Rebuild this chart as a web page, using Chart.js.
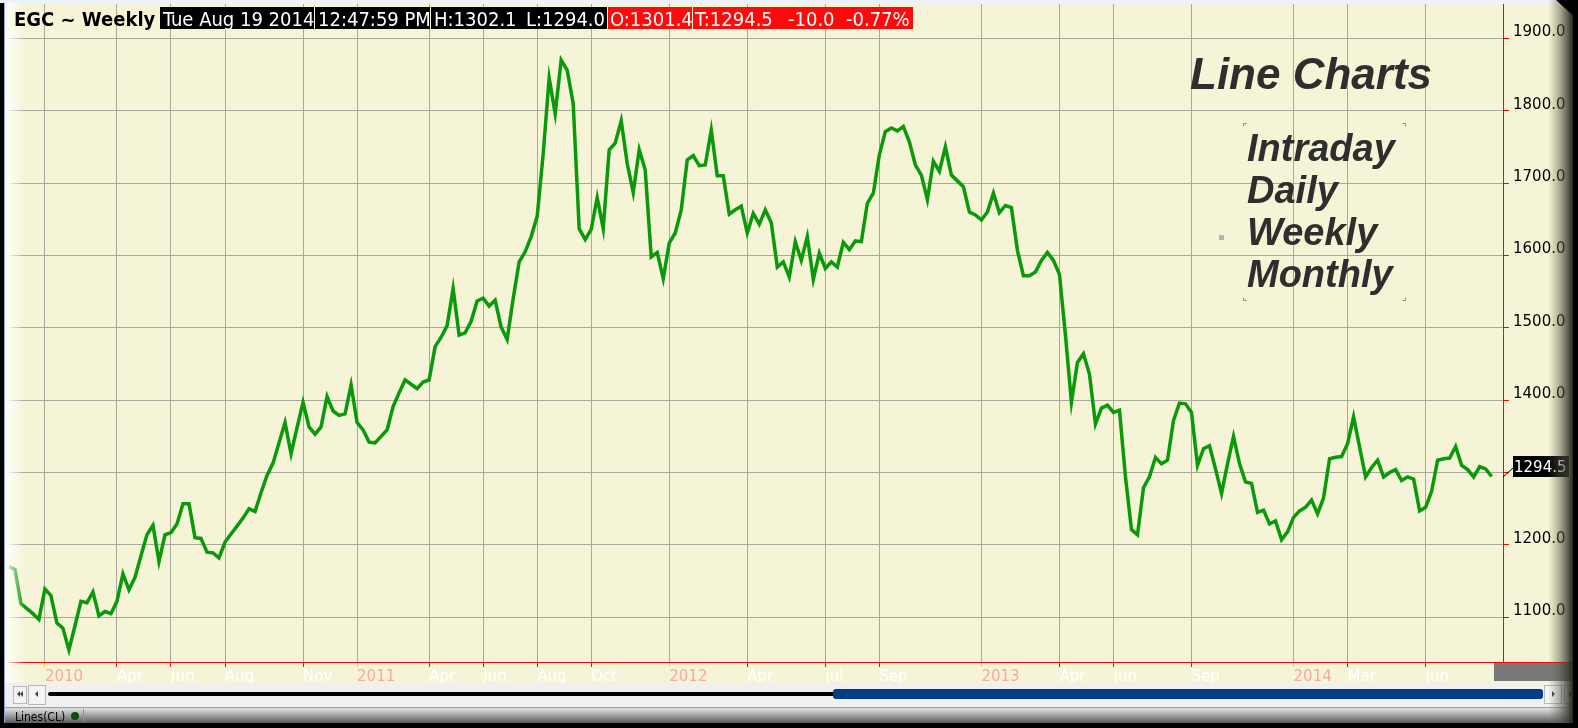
<!DOCTYPE html>
<html lang="en">
<head>
<meta charset="UTF-8">
<title>EGC ~ Weekly</title>
<script src="https://cdn.jsdelivr.net/npm/chart.js"></script>
<style>
    html, body { margin: 0; padding: 0; background: #f6f4d6; overflow: hidden; }
    canvas { display: block; }
</style>
</head>
<body>

<canvas id="goldChart" width="1578" height="728"></canvas>

<script>
// weekly closes, one per week, starting late Nov 2009
var closes = [
    1170, 1166, 1119, 1112, 1105, 1097, 1139, 1130, 1092, 1085,
    1055, 1088, 1122, 1120, 1135, 1102, 1108, 1105, 1122, 1160,
    1138, 1155, 1185, 1214, 1227, 1177, 1214, 1217, 1229, 1257,
    1257, 1210, 1209, 1190, 1189, 1182, 1204, 1215, 1226, 1237,
    1250, 1246, 1272, 1296, 1313, 1341, 1369, 1326, 1362, 1397,
    1363, 1353, 1363, 1405, 1385, 1379, 1381, 1421, 1369, 1359,
    1342, 1341, 1350, 1359, 1391, 1410, 1428, 1422, 1416, 1425,
    1428, 1474, 1487, 1503, 1554, 1490, 1493, 1509, 1537, 1541,
    1530, 1538, 1501, 1484, 1540, 1591, 1605, 1626, 1654, 1740,
    1845, 1796, 1870, 1856, 1810, 1637, 1622, 1636, 1680, 1637,
    1746, 1755, 1786, 1727, 1687, 1746, 1718, 1598, 1604, 1568,
    1617, 1631, 1663, 1732, 1738, 1724, 1725, 1773, 1710, 1710,
    1657, 1663, 1668, 1631, 1658, 1643, 1663, 1645, 1584, 1591,
    1570, 1619, 1593, 1626, 1567, 1603, 1582, 1591, 1584, 1618,
    1608, 1620, 1619, 1672, 1686, 1739, 1771, 1776, 1772, 1778,
    1757, 1725, 1711, 1677, 1730, 1716, 1750, 1711, 1703, 1695,
    1660, 1656, 1649, 1660, 1686, 1659, 1669, 1666, 1607, 1572,
    1572, 1577, 1593, 1604, 1593, 1574, 1490, 1397, 1452, 1464,
    1436, 1367, 1389, 1393, 1383, 1386, 1294, 1221, 1214, 1279,
    1294, 1321, 1312, 1317, 1372, 1396, 1395, 1383, 1310, 1333,
    1337, 1305, 1271, 1312, 1350, 1312, 1287, 1285, 1245, 1248,
    1229, 1233, 1207, 1218, 1238, 1247, 1252, 1262, 1243, 1265,
    1319, 1321, 1322, 1340, 1377, 1335, 1294, 1307, 1317, 1294,
    1300, 1304, 1289, 1294, 1291, 1247, 1252, 1274, 1317, 1319,
    1320, 1336, 1310, 1304, 1294, 1308, 1305, 1294.5
];

// x axis: week index of each month label
var tickWeeks = [6, 18, 27, 36, 49, 58, 70, 79, 88, 97, 110, 123, 136, 145, 162, 175, 184, 197, 214, 223, 236];
var tickLabels = ['2010', 'Apr', 'Jun', 'Aug', 'Nov', '2011', 'Apr', 'Jun', 'Aug', 'Oct', '2012', 'Apr', 'Jul', 'Sep', '2013', 'Apr', 'Jun', 'Sep', '2014', 'Mar', 'Jun'];
var priceTicks = [1100, 1200, 1300, 1400, 1500, 1600, 1700, 1800, 1900];

var headerTitle = 'EGC ~ Weekly';
var headerBoxes = [
    { text: ['Tue Aug 19 2014'], at: [163], x0: 160, x1: 314, fill: '#000000' },
    { text: ['12:47:59 PM'], at: [318], x0: 315, x1: 430, fill: '#000000' },
    { text: ['H:1302.1', 'L:1294.0'], at: [434, 526], x0: 431, x1: 607, fill: '#000000' },
    { text: ['O:1301.4'], at: [610], x0: 608, x1: 692, fill: '#ff0a0a' },
    { text: ['T:1294.5', '-10.0', '-0.77%'], at: [695, 788, 846], x0: 693, x1: 913, fill: '#ff0a0a' }
];
var noteTitle = 'Line Charts';
var noteLines = ['Intraday', 'Daily', 'Weekly', 'Monthly'];

function isYear(i) {
    return /^\d{4}$/.test(tickLabels[i]);
}

var framePlugin = {
    id: 'frame',
    beforeDraw: function (chart) {
        var c = chart.ctx;
        c.save();
        c.fillStyle = '#f6f4d6';
        c.fillRect(0, 0, chart.width, chart.height);
        c.restore();
    },
    afterDraw: function (chart) {
        var c = chart.ctx;
        var area = chart.chartArea;
        var yScale = chart.scales.y;
        c.save();

        // white fade on the left of the plot
        var g = c.createLinearGradient(5, 0, 25, 0);
        g.addColorStop(0, 'rgba(255,255,255,0.95)');
        g.addColorStop(1, 'rgba(255,255,255,0)');
        c.fillStyle = g;
        c.fillRect(5, 0, 20, 683);

        // header
        c.textBaseline = 'alphabetic';
        c.fillStyle = '#000';
        c.font = 'bold 20px "DejaVu Sans Condensed"';
        c.fillText(headerTitle, 14, 26);
        c.font = '20px "DejaVu Sans Condensed"';
        headerBoxes.forEach(function (b) {
            c.fillStyle = b.fill;
            c.fillRect(b.x0, 7, b.x1 - b.x0, 22);
            c.fillStyle = '#ffffff';
            b.text.forEach(function (t, k) { c.fillText(t, b.at[k], 26); });
        });

        // note text
        c.fillStyle = '#2e2e2e';
        c.font = 'italic bold 44px "Liberation Sans"';
        c.fillText(noteTitle, 1190, 89);
        c.font = 'italic bold 38px "Liberation Sans"';
        noteLines.forEach(function (t, k) { c.fillText(t, 1247, 161 + k * 42); });
        c.strokeStyle = '#8a8a8a';
        c.lineWidth = 1;
        [[1243, 123, 1, 1], [1405, 123, -1, 1], [1243, 300, 1, -1], [1405, 300, -1, -1]].forEach(function (m) {
            c.beginPath();
            c.moveTo(m[0] + 0.5 + m[2] * 3, m[1] + 0.5);
            c.lineTo(m[0] + 0.5, m[1] + 0.5);
            c.lineTo(m[0] + 0.5, m[1] + 0.5 + m[3] * 3);
            c.stroke();
        });
        c.fillStyle = '#b4b4b4';
        c.fillRect(1219, 235, 5, 5);

        // last value flag
        var last = closes[closes.length - 1];
        var vy = Math.round(yScale.getPixelForValue(last));
        c.strokeStyle = '#000';
        c.beginPath();
        c.moveTo(area.right, vy);
        c.lineTo(area.right + 10, vy - 9);
        c.stroke();
        c.fillStyle = '#000';
        c.fillRect(area.right + 10, vy - 21, 56, 21);
        c.fillStyle = '#fff';
        c.font = '15px "DejaVu Sans"';
        c.fillText(last.toFixed(1), area.right + 11, vy - 5);

        // red axis line runs on past the price scale
        c.fillStyle = '#ff0000';
        c.fillRect(area.right, area.bottom, 1578 - area.right, 1);
        c.fillStyle = '#787878';
        c.fillRect(1494, 663, 80, 18);

        // scroll bar
        c.fillStyle = '#f0f0f0';
        c.fillRect(5, 683, 1573, 24);
        function button(x, y, w, h) {
            c.fillStyle = '#f4f4f4';
            c.fillRect(x, y, w, h);
            c.strokeStyle = '#b8b8b8';
            c.strokeRect(x + 0.5, y + 0.5, w - 1, h - 1);
        }
        function arrow(x, y, dir) {
            c.fillStyle = '#404040';
            c.beginPath();
            c.moveTo(x, y - 3);
            c.lineTo(x, y + 3);
            c.lineTo(x + dir * 3, y);
            c.closePath();
            c.fill();
        }
        button(13, 686, 14, 18);
        arrow(20, 694, -1); arrow(23, 694, -1);
        button(28, 685, 18, 20);
        arrow(38, 694, -1);
        button(1544, 685, 18, 19);
        arrow(1552, 694, 1);
        button(1564, 685, 14, 19);
        arrow(1569, 694, 1); arrow(1572, 694, 1);
        c.fillStyle = '#000';
        c.beginPath();
        c.roundRect(48, 692, 1490, 4, 2);
        c.fill();
        c.fillStyle = '#003d86';
        c.beginPath();
        c.roundRect(833, 689, 710, 10, 3);
        c.fill();

        // status bar
        c.fillStyle = '#a0a0a0';
        c.fillRect(5, 707, 1573, 1);
        c.fillStyle = '#d8d8d8';
        c.fillRect(5, 708, 1573, 1);
        var sg = c.createLinearGradient(0, 709, 0, 723);
        sg.addColorStop(0, '#dcdcdc');
        sg.addColorStop(1, '#5a5a5a');
        c.fillStyle = sg;
        c.fillRect(5, 709, 1573, 14);
        c.fillStyle = '#000';
        c.fillRect(0, 723, 1578, 5);
        c.fillStyle = '#909090';
        c.fillRect(83, 709, 1, 13);
        c.fillStyle = '#000';
        c.font = '12px "DejaVu Sans Condensed"';
        c.fillText('Lines(CL)', 15, 721);
        c.fillStyle = '#0b4d0b';
        c.beginPath();
        c.arc(75, 716, 4, 0, Math.PI * 2);
        c.fill();

        // frame: top, left, right bevel
        c.fillStyle = '#eef2fa';
        c.fillRect(0, 0, 1578, 3);
        c.fillStyle = '#000';
        c.fillRect(0, 3, 4, 725);
        c.fillStyle = '#8fa3dc';
        c.fillRect(4, 3, 1, 720);
        var rg = c.createLinearGradient(1548, 0, 1573, 0);
        rg.addColorStop(0, 'rgba(120,120,100,0)');
        rg.addColorStop(1, 'rgba(40,40,34,1)');
        c.fillStyle = rg;
        c.fillRect(1548, 0, 25, 723);
        c.fillStyle = '#000';
        c.fillRect(1573, 0, 5, 728);
        c.beginPath();
        c.moveTo(1556, 0);
        c.lineTo(1578, 0);
        c.lineTo(1578, 20);
        c.closePath();
        c.fill();

        c.restore();
    }
};

var ctx = document.getElementById('goldChart').getContext('2d');
var goldChart = new Chart(ctx, {
    type: 'line',
    data: {
        datasets: [{
            data: closes.map(function (v, i) { return { x: i, y: v }; }),
            borderColor: '#0a990a',
            borderWidth: 3.5,
            pointRadius: 0,
            tension: 0,
            fill: false
        }]
    },
    options: {
        responsive: false,
        animation: false,
        events: [],
        layout: { padding: { left: 8, top: 4, right: 0, bottom: 45 } },
        plugins: {
            legend: { display: false },
            tooltip: { enabled: false }
        },
        scales: {
            x: {
                type: 'linear',
                position: 'bottom',
                min: -0.15,
                max: 248.89,
                afterBuildTicks: function (s) {
                    s.ticks = tickWeeks.map(function (w) { return { value: w }; });
                },
                afterFit: function (s) {
                    s.height = 21;
                    s.paddingLeft = 0;
                    s.paddingRight = 0;
                },
                ticks: {
                    autoSkip: false,
                    maxRotation: 0,
                    align: 'start',
                    padding: 1,
                    font: { family: 'DejaVu Sans', size: 15 },
                    color: function (c) { return isYear(c.index) ? '#f7a8a8' : '#ffffff'; },
                    callback: function (v, i) { return tickLabels[i]; }
                },
                grid: {
                    color: '#a9a89c',
                    tickColor: function (c) { return isYear(c.index) ? '#f0e000' : '#ff0000'; },
                    tickLength: 5
                },
                border: { color: '#ff0000' }
            },
            y: {
                position: 'right',
                min: 1038.2,
                max: 1947.4,
                afterBuildTicks: function (s) {
                    s.ticks = priceTicks.map(function (v) { return { value: v }; });
                },
                afterFit: function (s) {
                    s.width = 75;
                    s.paddingTop = 0;
                    s.paddingBottom = 0;
                },
                ticks: {
                    padding: 4,
                    labelOffset: -6,
                    font: { family: 'DejaVu Sans', size: 15 },
                    color: '#000000',
                    callback: function (v) { return Number(v).toFixed(1); }
                },
                grid: {
                    color: '#a9a89c',
                    tickColor: '#ff0000',
                    tickLength: 6
                },
                border: { color: '#ff0000' }
            }
        }
    },
    plugins: [framePlugin]
});
</script>

</body>
</html>
